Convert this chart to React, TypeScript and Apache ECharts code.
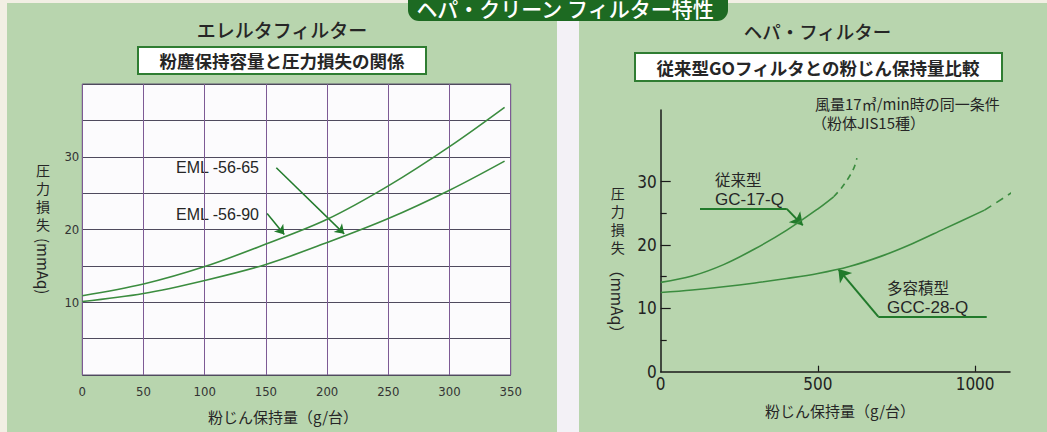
import React, { useEffect, useRef } from "react";
import * as echarts from "echarts";

// ---- Left chart (エレルタフィルター) ----
const leftX = [0, 50, 100, 150, 200, 250, 300, 345];
const eml5665 = [10.9, 12.5, 14.9, 18.0, 21.4, 26.0, 31.4, 36.8];
const eml5690 = [10.1, 11.2, 13.0, 15.2, 18.2, 21.5, 25.4, 29.4];
const leftXTicks = [0, 50, 100, 150, 200, 250, 300, 350];
const leftYLabels = [10, 20, 30];
const arrow5665 = [[158.5, 28.5], [214, 19.4]];
const arrow5690 = [[151, 22.2], [165, 19.3]];

// ---- Right chart (ヘパ・フィルター) ----
const gc17X = [0, 100, 200, 300, 400, 500, 550];
const gc17Y = [14.1, 15.1, 16.9, 19.4, 22.3, 25.7, 27.6];
const gc17DashX = [550, 575, 600, 615, 624];
const gc17DashY = [27.6, 29.0, 30.8, 32.2, 33.7];
const gcc28X = [0, 100, 200, 300, 400, 500, 600, 700, 800, 900, 1030];
const gcc28Y = [12.5, 12.9, 13.4, 14.0, 14.7, 15.5, 16.6, 18.2, 20.2, 22.5, 25.5];
const gcc28DashX = [1030, 1090, 1150];
const gcc28DashY = [25.5, 27.4, 29.4];
const rightXLabels = [0, 500, 1000];
const rightYLabels = [0, 10, 20, 30];
const rightYMajorTicks = [10, 20, 30];
const rightYMinorTicks = [5, 15, 25];
const leaderGC17 = [[125, 25.7], [401, 25.7]];
const arrowGC17 = [[401, 25.7], [452, 23.1]];
const leaderGCC28 = [[1037, 8.7], [692, 8.7]];
const arrowGCC28 = [[692, 8.7], [565, 16.2]];

const yNameChars = ["圧", "力", "損", "失"];

const zip = (xs: number[], ys: number[]) => xs.map((x, i) => [x, ys[i]]);

const CJK = "'Noto Sans CJK JP', 'Noto Sans', sans-serif";
const NARROW = "'Liberation Sans Narrow', 'DejaVu Sans Condensed', 'Liberation Sans', sans-serif";
const CURVE = "#3b8c3f";
const ARROW = "#217a2b";
const TXT = "#262626";

export default function App() {
  const ref = useRef<HTMLDivElement>(null);
  useEffect(() => {
    if (!ref.current) return;
    const chart = echarts.init(ref.current, undefined, { renderer: "svg" });
    const curve = (name: string, xi: number, xs: number[], ys: number[], dashed?: number[]) => ({
      name, type: "line", xAxisIndex: xi, yAxisIndex: xi,
      data: zip(xs, ys), smooth: 0.35, symbol: "none",
      clip: false,
      lineStyle: { color: CURVE, width: 1.6, type: dashed || "solid" },
    });
    const stacked = (cx: number, top: number, pitch: number, size: number) =>
      yNameChars.map((ch, i) => ({
        type: "text", x: cx, y: top + i * pitch,
        style: { text: ch, fill: TXT, font: `${size}px ${CJK}`, textAlign: "center", textVerticalAlign: "top" },
      }));
    const option: any = {
      animation: false,
      backgroundColor: "#b8d5ae",
      grid: [
        {
          left: 82.3, top: 84, width: 428.4, height: 291,
          show: true, backgroundColor: "#fcfbfd", borderColor: "#5e5470", borderWidth: 1,
        },
        { left: 660.7, top: 110, width: 349.3, height: 261.7 },
      ],
      xAxis: [
        {
          gridIndex: 0, type: "value", min: 0, max: 350, interval: 50,
          axisLine: { show: false }, axisTick: { show: false },
          splitLine: { show: true, lineStyle: { color: "#7d5a95", width: 1 } },
          axisLabel: {
            margin: 10, color: "#333", fontSize: 13, fontFamily: NARROW,
            customValues: leftXTicks, formatter: (v: number) => String(v),
          },
        },
        {
          gridIndex: 1, type: "value", min: 0, max: 1111,
          axisLine: { show: true, lineStyle: { color: "#1a1a1a", width: 1.5 } },
          axisTick: { show: true, inside: true, length: 6, customValues: [500, 1000], lineStyle: { color: "#1a1a1a", width: 1.2 } },
          splitLine: { show: false },
          axisLabel: {
            margin: 4, color: "#222", fontSize: 17, fontFamily: NARROW,
            customValues: rightXLabels, formatter: (v: number) => String(v),
          },
        },
      ],
      yAxis: [
        {
          gridIndex: 0, type: "value", min: 0, max: 40, interval: 5,
          axisLine: { show: false }, axisTick: { show: false },
          splitLine: { show: true, lineStyle: { color: "#4f4a5e", width: 1 } },
          axisLabel: {
            margin: 3, color: "#333", fontSize: 13, fontFamily: NARROW,
            customValues: leftYLabels, formatter: (v: number) => String(v),
          },
        },
        {
          gridIndex: 1, type: "value", min: 0, max: 41.3,
          axisLine: { show: true, lineStyle: { color: "#1a1a1a", width: 1.5 } },
          axisTick: { show: true, inside: true, length: 10, customValues: rightYMajorTicks, lineStyle: { color: "#1a1a1a", width: 1.2 } },
          splitLine: { show: false },
          axisLabel: {
            margin: 4, color: "#222", fontSize: 17, fontFamily: NARROW,
            customValues: rightYLabels, formatter: (v: number) => String(v),
          },
        },
        {
          gridIndex: 1, type: "value", min: 0, max: 41.3, position: "left",
          axisLine: { show: false },
          axisTick: { show: true, inside: true, length: 6, customValues: rightYMinorTicks, lineStyle: { color: "#1a1a1a", width: 1.2 } },
          splitLine: { show: false },
          axisLabel: { show: false },
        },
      ],
      series: [
        curve("EML -56-65", 0, leftX, eml5665),
        curve("EML -56-90", 0, leftX, eml5690),
        {
          type: "lines", coordinateSystem: "cartesian2d", xAxisIndex: 0, yAxisIndex: 0,
          symbol: ["none", "arrow"], symbolSize: 9,
          lineStyle: { color: ARROW, width: 1.5, opacity: 1 },
          data: [{ coords: arrow5665 }, { coords: arrow5690 }],
        },
        curve("従来型 GC-17-Q", 1, gc17X, gc17Y),
        curve("従来型 GC-17-Q（延長）", 1, gc17DashX, gc17DashY, [6, 5]),
        curve("多容積型 GCC-28-Q", 1, gcc28X, gcc28Y),
        curve("多容積型 GCC-28-Q（延長）", 1, gcc28DashX, gcc28DashY, [8, 6]),
        {
          type: "lines", coordinateSystem: "cartesian2d", xAxisIndex: 1, yAxisIndex: 1,
          symbol: ["none", "none"],
          lineStyle: { color: ARROW, width: 2, opacity: 1 },
          data: [{ coords: leaderGC17 }, { coords: leaderGCC28 }],
        },
        {
          type: "lines", coordinateSystem: "cartesian2d", xAxisIndex: 1, yAxisIndex: 1,
          symbol: ["none", "arrow"], symbolSize: 12,
          lineStyle: { color: ARROW, width: 2, opacity: 1 },
          data: [{ coords: arrowGC17 }, { coords: arrowGCC28 }],
        },
      ],
      graphic: [
        // page edges & separator
        { type: "rect", shape: { x: 0, y: 0, width: 7, height: 432 }, style: { fill: "#f2efe4" }, silent: true },
        { type: "rect", shape: { x: 0, y: 0, width: 1047, height: 3 }, style: { fill: "#f2efe4" }, silent: true },
        { type: "rect", shape: { x: 557, y: 18, width: 22, height: 414 }, style: { fill: "#f3f1f6" }, silent: true },
        // banner
        { type: "rect", shape: { x: 408, y: -14, width: 320, height: 35, r: 11 }, style: { fill: "#1d6a22" }, silent: true },
        {
          type: "text", x: 565, y: 8,
          style: { text: "ヘパ・クリーン フィルター特性", fill: "#ffffff", font: `500 21px ${CJK}`, textAlign: "center", textVerticalAlign: "middle" },
        },
        // titles
        {
          type: "text", x: 282, y: 29.5,
          style: { text: "エレルタフィルター", fill: TXT, font: `500 19px ${CJK}`, textAlign: "center", textVerticalAlign: "middle" },
        },
        {
          type: "text", x: 817.5, y: 31,
          style: { text: "ヘパ・フィルター", fill: TXT, font: `500 18.5px ${CJK}`, textAlign: "center", textVerticalAlign: "middle" },
        },
        // subtitle boxes
        { type: "rect", shape: { x: 138, y: 47, width: 288, height: 27 }, style: { fill: "#ffffff", stroke: "#2f7d32", lineWidth: 2 }, silent: true },
        {
          type: "text", x: 282, y: 60.5,
          style: { text: "粉塵保持容量と圧力損失の関係", fill: TXT, font: `bold 17.5px ${CJK}`, textAlign: "center", textVerticalAlign: "middle" },
        },
        { type: "rect", shape: { x: 635, y: 53, width: 367, height: 28 }, style: { fill: "#ffffff", stroke: "#2f7d32", lineWidth: 2 }, silent: true },
        {
          type: "text", x: 818, y: 67.5,
          style: { text: "従来型GOフィルタとの粉じん保持量比較", fill: TXT, font: `bold 17.5px ${CJK}`, textAlign: "center", textVerticalAlign: "middle" },
        },
        // left axis names
        ...stacked(43, 163, 18, 14),
        {
          type: "text", x: 43, y: 238, rotation: -Math.PI / 2,
          style: { text: "(mmAq)", fill: TXT, font: `15px ${CJK}`, textAlign: "left", textVerticalAlign: "middle" },
        },
        {
          type: "text", x: 283, y: 416,
          style: { text: "粉じん保持量（g/台）", fill: TXT, font: `15px ${CJK}`, textAlign: "center", textVerticalAlign: "middle" },
        },
        // right axis names
        ...stacked(617.7, 186, 18, 14),
        {
          type: "text", x: 617.7, y: 262, rotation: -Math.PI / 2,
          style: { text: "（mmAq）", fill: TXT, font: `15.5px ${CJK}`, textAlign: "left", textVerticalAlign: "middle" },
        },
        {
          type: "text", x: 840, y: 410,
          style: { text: "粉じん保持量（g/台）", fill: TXT, font: `15px ${CJK}`, textAlign: "center", textVerticalAlign: "middle" },
        },
        // left curve labels
        {
          type: "text", x: 176, y: 167,
          style: { text: "EML -56-65", fill: TXT, font: `16px 'Liberation Sans', sans-serif`, textAlign: "left", textVerticalAlign: "middle" },
        },
        {
          type: "text", x: 176, y: 214,
          style: { text: "EML -56-90", fill: TXT, font: `16px 'Liberation Sans', sans-serif`, textAlign: "left", textVerticalAlign: "middle" },
        },
        // right curve labels
        {
          type: "text", x: 715, y: 178.5,
          style: { text: "従来型", fill: TXT, font: `15.5px ${CJK}`, textAlign: "left", textVerticalAlign: "middle" },
        },
        {
          type: "text", x: 715, y: 199.5,
          style: { text: "GC-17-Q", fill: TXT, font: `17px 'Liberation Sans', sans-serif`, textAlign: "left", textVerticalAlign: "middle" },
        },
        {
          type: "text", x: 887, y: 286.5,
          style: { text: "多容積型", fill: TXT, font: `15.5px ${CJK}`, textAlign: "left", textVerticalAlign: "middle" },
        },
        {
          type: "text", x: 887, y: 307.5,
          style: { text: "GCC-28-Q", fill: TXT, font: `17px 'Liberation Sans', sans-serif`, textAlign: "left", textVerticalAlign: "middle" },
        },
        // condition note
        {
          type: "text", x: 815, y: 103,
          style: { text: "風量17㎥/min時の同一条件", fill: TXT, font: `15px ${CJK}`, textAlign: "left", textVerticalAlign: "middle" },
        },
        {
          type: "text", x: 812, y: 122,
          style: { text: "（粉体JIS15種）", fill: TXT, font: `15px ${CJK}`, textAlign: "left", textVerticalAlign: "middle" },
        },
      ],
    };
    chart.setOption(option);
    return () => chart.dispose();
  }, []);
  return (
    <div
      ref={ref}
      style={{ position: "absolute", left: 0, top: 0, width: 1047, height: 432 }}
    />
  );
}
